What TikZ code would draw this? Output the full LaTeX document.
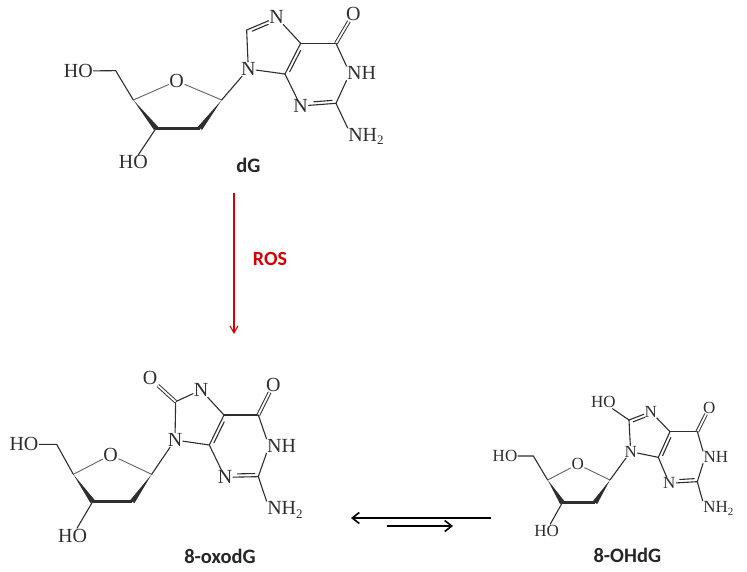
\documentclass[tikz,border=0pt]{standalone}
\usepackage{fontspec}
\setmainfont{Liberation Serif}
\newfontfamily\labelfont{Carlito}
\usetikzlibrary{calc,arrows.meta}
\definecolor{ink}{gray}{0.18}
\tikzset{
  atom/.style={inner sep=0.5pt,text=ink,font=\atomfont},
  bond/.style={draw=ink,line width=1.1pt,line cap=round},
  thinbond/.style={draw=ink!75,line width=0.9pt},
  dbl/.style={draw=ink,line width=0.95pt,double,double distance=1.8pt},
  wedge/.style={fill=ink,draw=none},
  mollabel/.style={font=\labelfont\bfseries\fontsize{20.5}{20.5}\selectfont,text=black!85,inner sep=0pt},
  react/.style={draw=black,line width=1.6pt,-{Straight Barb[length=7pt,width=11pt,line width=1.6pt]}},
  rosarrow/.style={draw=red!85!black,line width=1.1pt,-{Straight Barb[length=7pt,width=8pt]}}
}
\newcommand{\atomfont}{\fontsize{20}{20}\selectfont}
\newcommand{\subfs}{13}
\newcommand{\subtwo}{\raisebox{-0.35ex}{\fontsize{\subfs}{\subfs}\selectfont 2}}
% second bond line, inside the ring, from a to b
\newcommand{\inner}[4]{\draw[bond] ($(#1)!#3!(#2)!3.2pt!-90:(#2)$) -- ($(#1)!#4!(#2)!3.2pt!-90:(#2)$);}
\newcommand{\drawmol}[1]{%
  \node[atom] (#1ho5) at (#1pho5) {HO};
  \node[atom] (#1o4) at (#1po4) {O};
  \node[atom] (#1ho3) at (#1pho3) {HO};
  \node[atom] (#1n9) at (#1pn9) {N};
  \node[atom] (#1n7) at (#1pn7) {N};
  \node[atom] (#1o6) at (#1po6) {O};
  \node[atom] (#1n1) at (#1pn1) {NH};
  \node[atom] (#1n3) at (#1pn3) {N};
  \node[atom] (#1n2) at (#1pn2) {NH\subtwo};
  \draw[bond] (#1ho5) -- (#1c5p) -- (#1c4p);
  \draw[thinbond] (#1c4p) -- (#1o4) -- (#1c1p);
  \fill[wedge] (#1c4p) -- ($(#1c3p)!2.6pt!90:(#1c4p)$) -- ($(#1c3p)!2.6pt!-90:(#1c4p)$) -- cycle;
  \fill[wedge] (#1c1p) -- ($(#1c2p)!2.6pt!90:(#1c1p)$) -- ($(#1c2p)!2.6pt!-90:(#1c1p)$) -- cycle;
  \draw[draw=ink,line width=3.4pt] (#1c3p) -- (#1c2p);
  \draw[bond] (#1c3p) -- (#1ho3);
  \draw[bond] (#1c1p) -- (#1n9);
  \draw[bond] (#1n9) -- (#1c8);
  \draw[bond] (#1n9) -- (#1c4);
  \draw[bond] (#1c8) -- (#1n7);
  \draw[bond] (#1n7) -- (#1c5);
  \draw[bond] (#1c4) -- (#1c5);
  \inner{#1c4}{#1c5}{0.12}{0.82}
  \draw[bond] (#1c5) -- (#1c6);
  \draw[dbl] (#1c6) -- (#1o6);
  \draw[bond] (#1c6) -- (#1n1.north west);
  \draw[bond] (#1n1.south west) -- (#1c2);
  \draw[bond] (#1c2) -- (#1n3);
  \inner{#1c2}{#1pn3}{0.1}{0.62}
  \draw[bond] (#1n3) -- (#1c4);
  \draw[bond] (#1c2) -- (#1n2.north west);
}
\newcommand{\setcoords}[2]{%
  \foreach \n/\x/\y in {#2} {\coordinate (#1\n) at (\x,\y);}
}
\begin{document}
\begin{tikzpicture}[x=1pt,y=-1pt]
\path[use as bounding box] (0,0) rectangle (747,571);
% dG
\begin{scope}[shift={(50,0)},x=0.3333pt,y=-0.3333pt]
  \setcoords{a}{pho5/85/213,c5p/197/212,c4p/250/300,po4/380/243,c1p/515/300,c2p/450/385,c3p/318/385,pho3/250/487,pn9/595/207,c8/590/90,pn7/680/52,c5/752/130,c4/705/222,po6/910/42,c6/858/130,pn1/935/220,c2/858/310,pn3/752/318,pn2/948/410}
  \drawmol{a}
  \inner{ac8}{apn7}{0.14}{0.68}
  \node[mollabel] (dglabel) at (595,497) {dG};
\end{scope}
% 8-oxodG
\begin{scope}[shift={(0,360)},x=0.3333pt,y=-0.3333pt]
  \setcoords{b}{pho5/72/253,c5p/170/253,c4p/220/343,po4/332/285,c1p/455/343,c2p/397/425,c3p/278/425,pho3/218/527,pn9/525/240,c8/527/125,pn7/603/90,c5/672/165,c4/628/255,po6/820/75,c6/775/165,pn1/845/258,c2/775/350,pn3/675/352,pn2/855/450,po8/450/55}
  \drawmol{b}
  \node[atom] (bo8) at (bpo8) {O};
  \draw[dbl] (bc8) -- (bo8);
  \node[mollabel] (oxolabel) at (660,590) {8-oxodG};
\end{scope}
% 8-OHdG
\renewcommand{\atomfont}{\fontsize{17}{17}\selectfont}
\renewcommand{\subfs}{11}
\begin{scope}[shift={(480,380)},x=0.3333pt,y=-0.3333pt]
  \setcoords{c}{pho5/75/228,c5p/160/228,c4p/203/300,po4/293/253,c1p/390/300,c2p/345/368,c3p/247/368,pho3/200/452,pn9/452/215,c8/447/120,pn7/512/95,c5/570/155,c4/535/232,po6/688/83,c6/652/155,pn1/708/232,c2/652/305,pn3/568/310,pn2/715/385,po8/370/67}
  \drawmol{c}
  \node[atom] (cho8) at (cpo8) {HO};
  \draw[bond] (cc8) -- (cho8);
  \inner{cc8}{cpn7}{0.14}{0.68}
  \node[mollabel] (ohlabel) at (442,525) {8-OHdG};
\end{scope}
% arrows
\coordinate (rosstart) at (234,193);
\coordinate (rosend) at (234,334);
\draw[rosarrow] (rosstart) -- (rosend);
\node[font=\labelfont\bfseries\fontsize{20}{20}\selectfont,text=red!85!black,inner sep=0pt] (roslabel) at (270,259) {ROS};
\coordinate (eqa) at (491,518);
\coordinate (eqb) at (351,518);
\coordinate (eqc) at (387,526);
\coordinate (eqd) at (453,526);
\draw[react] (eqa) -- (eqb);
\draw[react] (eqc) -- (eqd);
\end{tikzpicture}
\end{document}
